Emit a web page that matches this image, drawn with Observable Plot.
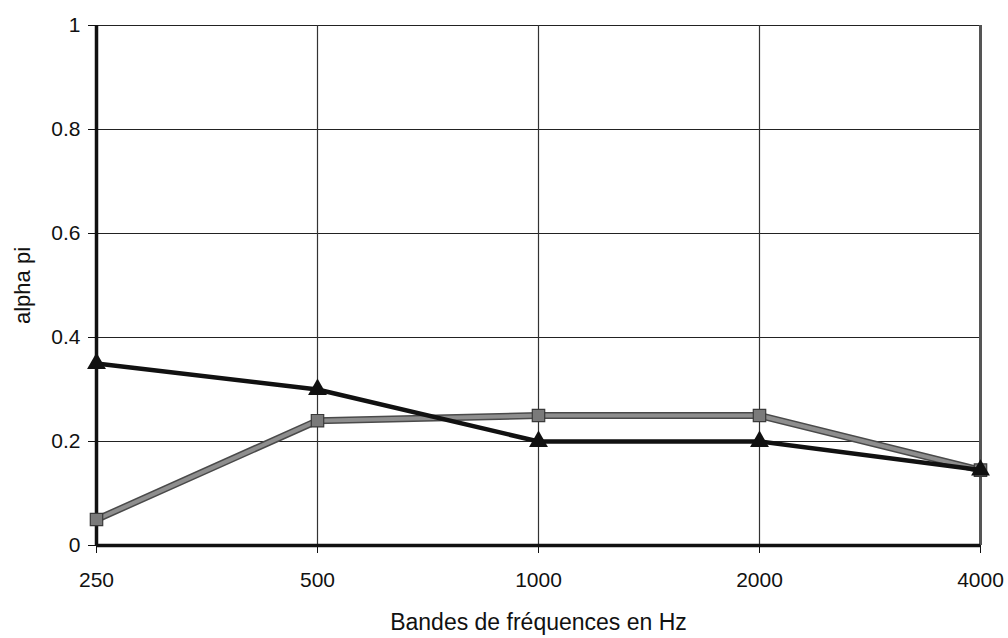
<!DOCTYPE html>
<html>
<head>
<meta charset="utf-8">
<script src="https://cdn.jsdelivr.net/npm/d3@7"></script>
<script src="https://cdn.jsdelivr.net/npm/@observablehq/plot@0.6"></script>
<style>
  html, body { margin: 0; padding: 0; background: #fff; }
  #chart { width: 1008px; height: 638px; }
</style>
</head>
<body>
<div id="chart"></div>
<script>
const bands = ["250", "500", "1000", "2000", "4000"];
const seriesTriangle = [0.35, 0.30, 0.20, 0.20, 0.145];
const seriesSquare = [0.05, 0.24, 0.25, 0.25, 0.145];
const yTicks = [0, 0.2, 0.4, 0.6, 0.8, 1];
const yLabel = "alpha pi";
const xLabel = "Bandes de fréquences en Hz";

const triData = bands.map((b, i) => ({band: b, value: seriesTriangle[i]}));
const sqData = bands.map((b, i) => ({band: b, value: seriesSquare[i]}));

const chart = Plot.plot({
  width: 1008,
  height: 638,
  marginLeft: 96,
  marginRight: 28,
  marginTop: 25,
  marginBottom: 93,
  style: {fontFamily: "'Liberation Sans', Arial, sans-serif", fontSize: "21px", color: "#111", background: "#fff"},
  x: {type: "point", domain: bands, padding: 0},
  y: {domain: [0, 1]},
  marks: [
    Plot.ruleY(yTicks.filter(d => d > 0), {stroke: "#222", strokeWidth: 1.2}),
    Plot.ruleX(bands.slice(1, 4), {stroke: "#333", strokeWidth: 1.2}),
    Plot.ruleX([bands[4]], {stroke: "#555", strokeWidth: 3}),
    Plot.axisY({ticks: yTicks, tickFormat: d => String(d), tickSize: 8, tickPadding: 8, tickStrokeWidth: 2,
      fontSize: 21, label: null}),
    Plot.axisY({ticks: [], tickSize: 0,
      label: yLabel, labelAnchor: "center", labelArrow: "none", labelOffset: 82, fontSize: 22}),
    Plot.axisX({tickSize: 8, tickPadding: 19, tickStrokeWidth: 2, fontSize: 21, label: null}),
    Plot.axisX({ticks: [], tickSize: 0,
      label: xLabel, labelAnchor: "center", labelArrow: "none", labelOffset: 84, fontSize: 23}),
    Plot.ruleX([bands[0]], {stroke: "#111", strokeWidth: 3.5}),
    Plot.ruleY([0], {stroke: "#111", strokeWidth: 3.5}),
    Plot.line(sqData, {x: "band", y: "value", stroke: "#4a4a4a", strokeWidth: 7}),
    Plot.line(sqData, {x: "band", y: "value", stroke: "#8e8e8e", strokeWidth: 4}),
    Plot.dot(sqData, {x: "band", y: "value", symbol: "square", r: 7, fill: "#7a7a7a", stroke: "#3a3a3a", strokeWidth: 1.2}),
    Plot.line(triData, {x: "band", y: "value", stroke: "#111", strokeWidth: 4.5}),
    Plot.dot(triData, {x: "band", y: "value", symbol: "triangle", r: 7, fill: "#111", stroke: "none"})
  ]
});
document.getElementById("chart").appendChild(chart);
</script>
</body>
</html>
